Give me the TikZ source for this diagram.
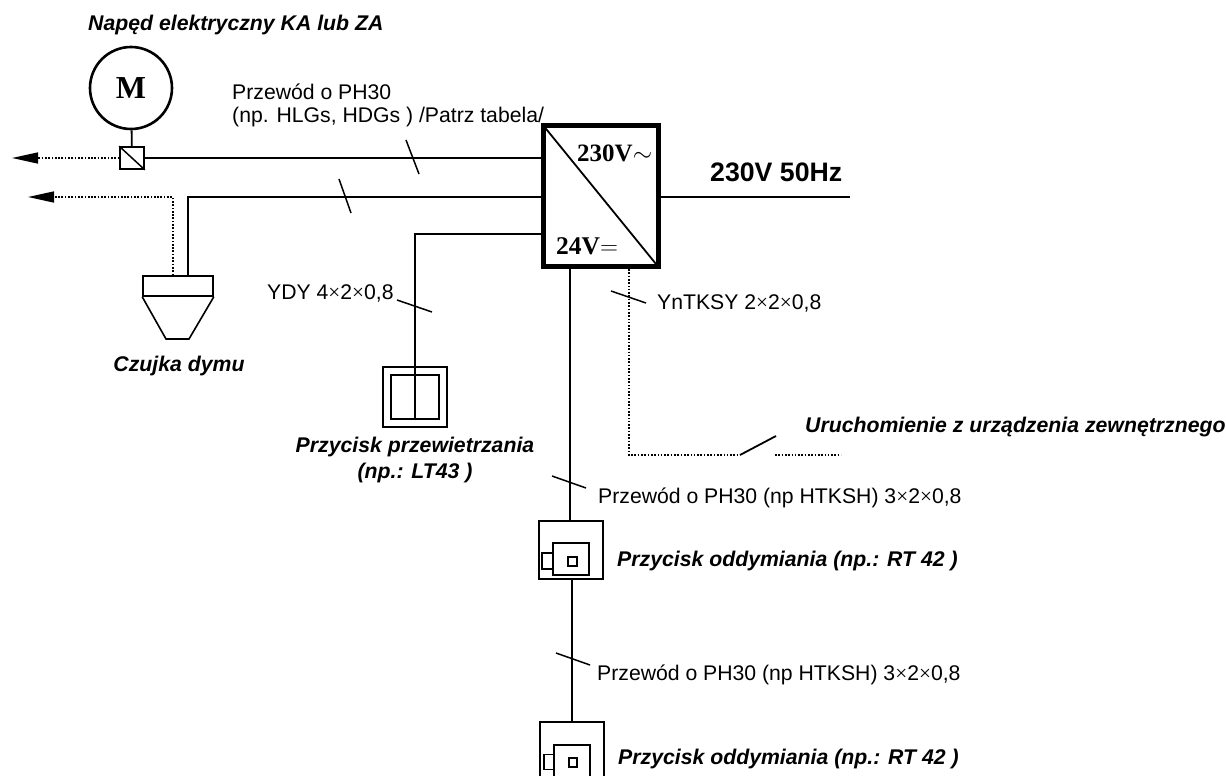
\documentclass[tikz,border=0pt]{standalone}
\usepackage{fontspec}
\setmainfont{Liberation Sans}
\newfontfamily\serifbold[BoldFont=Liberation Serif Bold]{Liberation Serif}
\usetikzlibrary{arrows.meta}
\newcommand{\x}{{\serifbold ×}}
\tikzset{
    wire/.style={line width=1.8pt},
    dotwire/.style={line width=1.5pt, dash pattern=on 1.65pt off 1.65pt},
    slash/.style={line width=1.5pt},
    part/.style={draw, line width=1.6pt, inner sep=0pt, minimum width=#1},
    plain/.style={font=\fontsize{21.2}{24}\selectfont, inner sep=0pt, anchor=west},
    title/.style={font=\fontsize{21.25}{26}\selectfont\bfseries\itshape, inner sep=0pt, align=center},
    arrowtip/.style={-{Triangle[length=26pt,width=11pt]}},
}
\begin{document}
\begin{tikzpicture}[x=1pt, y=-1pt]
    \clip (0,0) rectangle (1226,776);
    \node [draw, circle, line width=2.6pt, minimum size=82pt, inner sep=0pt, font=\fontsize{32}{34}\selectfont\serifbold\bfseries] (motor) at (131,88) {M};
    \node [part=24pt, minimum height=22pt] (valve) at (132,158) {};
    \node [draw, line width=5pt, minimum width=115pt, minimum height=141pt, inner sep=0pt] (psu) at (601,196) {};
    \node [part=70pt, minimum height=20pt] (head) at (178,286) {};
    \node [part=64pt, minimum height=60pt] (vent) at (415,397) {};
    \node [part=48pt, minimum height=44pt] (ventin) at (415,397) {};
    \node [part=64pt, minimum height=58pt] (smoke) at (571,550) {};
    \node [part=36pt, minimum height=32pt] (smokein) at (571,559) {};
    \node [part=11pt, minimum height=16pt] (smokekey) at (547.5,561) {};
    \node [part=9pt, minimum height=9pt] (smokedot) at (572.5,561.5) {};
    \node [part=64pt, minimum height=60pt] (smoketwo) at (572,752) {};
    \node [part=36pt, minimum height=32pt] (smoketwoin) at (572,761) {};
    \node [part=10pt, minimum height=15pt] (smoketwokey) at (549,762) {};
    \node [part=8pt, minimum height=9pt] (smoketwodot) at (573,762.5) {};

    \coordinate (arrowa) at (12,158);
    \coordinate (arrowb) at (28,197);
    \coordinate (bend) at (173,197);
    \coordinate (cornerb) at (188,197);
    \coordinate (cornerc) at (415,234);
    \coordinate (mains) at (850,197);
    \coordinate (dotdown) at (629,455);
    \coordinate (contact) at (740,455);
    \coordinate (contactend) at (776,436);
    \coordinate (dotstart) at (775,455);
    \coordinate (dotend) at (841,455);

    \node [title, anchor=west] (motortitle) at (88,25) {Napęd elektryczny KA lub ZA};
    \node [plain] (cablea) at (232,92) {Przewód o PH30};
    \node [plain] (cableb) at (232,117) {(np. HLGs, HDGs ) /Patrz tabela/};
    \node [font=\fontsize{25}{27}\selectfont\serifbold\bfseries, inner sep=0pt, anchor=west] (acv) at (577,153) {230V$\sim$};
    \node [font=\fontsize{25.5}{27}\selectfont\serifbold\bfseries, inner sep=0pt, anchor=west] (dcv) at (556,246) {24V$=$};
    \node [font=\fontsize{26.7}{28}\selectfont\bfseries, inner sep=0pt, anchor=west] (mainstext) at (710,172) {230V 50Hz};
    \node [plain] (ydy) at (267,293) {YDY 4\x2\x0,8};
    \node [plain] (yntksy) at (657,303) {YnTKSY 2\x2\x0,8};
    \node [title] (czujka) at (179,366) {Czujka dymu};
    \node [title] (przewietrz) at (415,460) {Przycisk przewietrzania\\(np.: LT43 )};
    \node [title, anchor=west] (uruchom) at (805,427) {Uruchomienie z urządzenia zewnętrznego};
    \node [plain] (cablec) at (598,498) {Przewód o PH30 (np HTKSH) 3\x2\x0,8};
    \node [title, anchor=west] (smoketext) at (617,561) {Przycisk oddymiania (np.: RT 42 )};
    \node [plain] (cabled) at (597,675) {Przewód o PH30 (np HTKSH) 3\x2\x0,8};
    \node [title, anchor=west] (smoketwotext) at (618,759) {Przycisk oddymiania (np.: RT 42 )};

    \draw [wire] (motor) -- (valve);
    \draw [wire] (valve.east) -- (psu.west|-valve.east);
    \draw [dotwire, arrowtip] (valve.west) -- (arrowa);
    \draw [slash] (valve.north west) -- (valve.south east);
    \draw [wire] (psu.west|-cornerb) -- (cornerb) -- (cornerb|-head.north);
    \draw [dotwire, arrowtip] (bend|-head.north) -- (bend) -- (arrowb);
    \draw [part=0pt] (head.south west) -- (166,339) -- (189,339) -- (head.south east);
    \draw [wire] (psu.west|-cornerc) -- (cornerc) -- (cornerc|-vent.north);
    \draw [wire] (vent.north) -- (ventin.south);
    \draw [slash, line width=1.8pt] (psu.north west) ++(1.5,1.5) -- (656,264);
    \draw [wire] (psu.east|-mains) -- (mains);
    \draw [wire] ([xshift=-1pt]smoke.north|-psu.south) -- ([xshift=-1pt]smoke.north);
    \draw [wire] (smoketwo.north|-smoke.south) -- (smoketwo.north);
    \draw [dotwire] (psu.south-|dotdown) -- (dotdown) -- (contact);
    \draw [wire] (contact) -- (contactend);
    \draw [dotwire] (dotstart) -- (dotend);

    \draw [slash] (406,140) -- (419,174);
    \draw [slash] (339,179) -- (351,213);
    \draw [slash] (397,300) -- (432,312);
    \draw [slash] (611,291) -- (646,303);
    \draw [slash] (552,476) -- (586,488);
    \draw [slash] (556,653) -- (590,665);
\end{tikzpicture}
\end{document}
